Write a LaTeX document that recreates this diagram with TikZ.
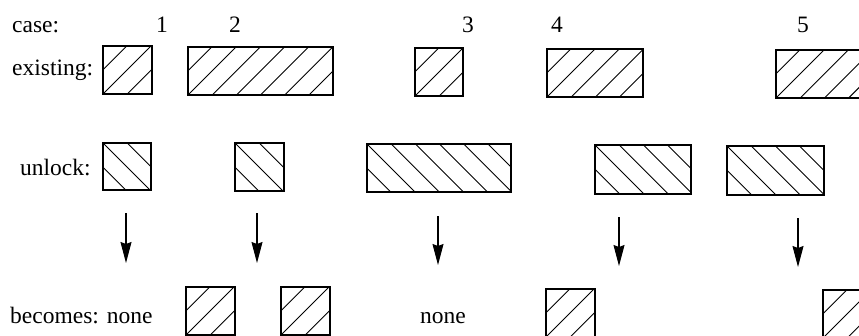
\documentclass[tikz,border=0pt]{standalone}
\usepackage{fontspec}
\setmainfont{Liberation Serif}
\usepackage{tikz}
\usetikzlibrary{arrows.meta}
\usetikzlibrary{positioning}

\tikzset{
  label/.style={anchor=base west, inner sep=0pt, font=\fontsize{23.5}{28}\selectfont},
  casenum/.style={anchor=base, inner sep=0pt, font=\fontsize{23.5}{28}\selectfont},
  boxline/.style={line width=1.2pt},
  hatch/.style={line width=0.9pt},
  flow/.style={line width=1.1pt, -{Stealth[length=21pt, width=11pt, inset=2pt]}}
}

\begin{document}
\begin{tikzpicture}[x=1pt, y=-1pt]
        \clip (0,0) rectangle (859,335);
        % row labels
        \node[label] (case) at (12,32) {case:};
        \node[label] (exist) at (12,75) {existing:};
        \node[label] (unlock) at (20,175) {unlock:};
        \node[label] (becomes) at (10,323) {becomes: none};
        \node[label] (none) at (420,323) {none};
        % case numbers
        \node[casenum] (c1) at (162,32) {1};
        \node[casenum] (c2) at (235,32) {2};
        \node[casenum] (c3) at (468,32) {3};
        \node[casenum] (c4) at (557,32) {4};
        \node[casenum] (c5) at (803,32) {5};
        % existing and resulting locks (hatched /)
        \foreach \xa/\ya/\xb/\yb in {103/46/152/94, 188/47/333/95, 415/48/463/96,
                                    547/49/643/97, 776/50/872/98,
                                    186/287/235/335, 281/287/330/335,
                                    546/289/595/337, 823/290/872/338} {
          \begin{scope}
            \clip (\xa,\ya) rectangle (\xb,\yb);
            \foreach \k in {-2,...,6}
              \draw[hatch] (\xa+\k*24.2,\yb) -- ++(48.4,-48.4);
          \end{scope}
          \draw[boxline] (\xa,\ya) rectangle (\xb,\yb);
        }
        % unlock requests (hatched \)
        \foreach \xa/\ya/\xb/\yb in {103/143/151/190, 235/143/284/191, 367/144/511/192,
                                    595/145/691/194, 727/146/824/195} {
          \begin{scope}
            \clip (\xa,\ya) rectangle (\xb,\yb);
            \foreach \k in {-2,...,6}
              \draw[hatch] (\xa+\k*24.2,\ya) -- ++(48.4,48.4);
          \end{scope}
          \draw[boxline] (\xa,\ya) rectangle (\xb,\yb);
        }
        % arrows
        \foreach \i/\x/\ys/\ye in {1/126/213/263, 2/257/213/263, 3/438/216/265,
                                   4/619/217/266, 5/798/218/267} {
          \coordinate (from\i) at (\x,\ys);
          \coordinate (to\i) at (\x,\ye);
          \draw[flow] (from\i) -- (to\i);
        }
\end{tikzpicture}
\end{document}
